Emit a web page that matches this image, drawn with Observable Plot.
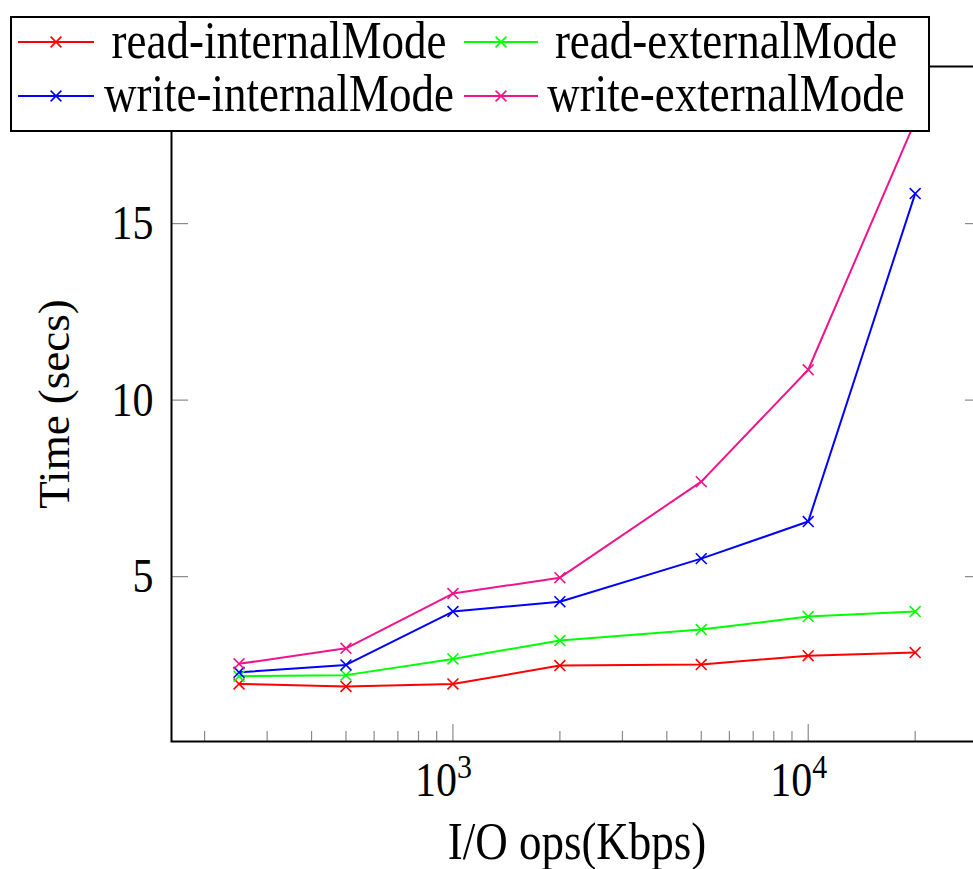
<!DOCTYPE html>
<html>
<head>
<meta charset="utf-8">
<script src="https://cdn.jsdelivr.net/npm/d3@7"></script>
<script src="https://cdn.jsdelivr.net/npm/@observablehq/plot@0.6"></script>
<style>
html, body { margin: 0; padding: 0; overflow: hidden; background: #fff; }
#wrap { position: relative; width: 973px; height: 869px; overflow: hidden; }
#wrap > svg { position: absolute; left: 0; top: 0; max-width: none !important; height: auto; }
#legend { position: absolute; left: 0; top: 0; pointer-events: none; }
</style>
</head>
<body>
<div id="wrap"></div>
<script>
// ---- data ----
const xValues = [250, 500, 1000, 2000, 5000, 10000, 20000];
const readInternal  = [1.96, 1.89, 1.96, 2.48, 2.51, 2.76, 2.85];
const readExternal  = [2.18, 2.21, 2.67, 3.19, 3.50, 3.87, 4.01];
const writeInternal = [2.29, 2.50, 4.01, 4.29, 5.51, 6.56, 15.85];
const writeExternal = [2.53, 2.97, 4.52, 4.97, 7.69, 10.86, 17.90];
const seriesNames  = ["read-internalMode", "read-externalMode", "write-internalMode", "write-externalMode"];
const seriesColors = ["#ff0000", "#00ff00", "#0000ff", "#f0148c"];
const xMajorTicks = [1000, 10000];
const xMajorBase = "10";
const xMajorExp = ["3", "4"];
const xMinorTicks = [200, 300, 400, 500, 600, 700, 800, 900, 2000, 3000, 4000, 5000, 6000, 7000, 8000, 9000, 20000, 30000];
const yTicks = [5, 10, 15];
const xLabel = "I/O ops(Kbps)";
const yLabel = "Time (secs)";

const seriesValues = [readInternal, readExternal, writeInternal, writeExternal];
const table = seriesNames.flatMap((name, i) => xValues.map((x, j) => ({series: name, x, y: seriesValues[i][j]})));
const expTable = xMajorTicks.map((t, i) => ({t, e: xMajorExp[i]}));

const W = 990, H = 869, mL = 171, mR = 8, mT = 66, mB = 128;
const pw = W - mL - mR, ph = H - mT - mB;
const tickColor = "#8a8a8a";
const font = "'Liberation Serif', 'Times New Roman', serif";
const S = 1.15; // vertical stretch of the reference's glyphs

const chart = Plot.plot({
  width: W, height: H,
  marginLeft: mL, marginRight: mR, marginTop: mT, marginBottom: mB,
  x: {type: "log", domain: [161.4, 30940], axis: null},
  y: {domain: [0.33, 19.45], axis: null},
  color: {domain: seriesNames, range: seriesColors},
  style: {fontFamily: font, background: "white", overflow: "visible", maxWidth: "none"},
  marks: [
    // ticks (inward, pgfplots style)
    Plot.tickX(xMinorTicks, {x: d => d, insetTop: ph - 10, stroke: tickColor, strokeWidth: 1.2}),
    Plot.tickX(xMajorTicks, {x: d => d, insetTop: ph - 17, stroke: tickColor, strokeWidth: 1.2}),
    Plot.tickX(xMinorTicks, {x: d => d, insetBottom: ph - 10, stroke: tickColor, strokeWidth: 1.2}),
    Plot.tickX(xMajorTicks, {x: d => d, insetBottom: ph - 17, stroke: tickColor, strokeWidth: 1.2}),
    Plot.tickY(yTicks, {y: d => d, insetRight: pw - 17, stroke: tickColor, strokeWidth: 1.2}),
    Plot.tickY(yTicks, {y: d => d, insetLeft: pw - 17, stroke: tickColor, strokeWidth: 1.2}),
    // data
    Plot.line(table, {x: "x", y: "y", z: "series", stroke: "series", strokeWidth: 2}),
    Plot.dot(table, {x: "x", y: "y", stroke: "series", symbol: "times", r: 5, strokeWidth: 1.6}),
    Plot.frame({stroke: "black", strokeWidth: 2}),
    // tick labels
    Plot.text(yTicks, {y: d => d, frameAnchor: "left", text: d => String(d), textAnchor: "end", lineAnchor: "middle", dx: -18, fontSize: 42, fill: "black", ariaDescription: "vstretch"}),
    Plot.text(xMajorTicks, {x: d => d, frameAnchor: "bottom", text: () => xMajorBase, textAnchor: "middle", lineAnchor: "middle", dx: -17, dy: 39, fontSize: 42, fill: "black", ariaDescription: "vstretch"}),
    Plot.text(expTable, {x: "t", frameAnchor: "bottom", text: "e", textAnchor: "middle", lineAnchor: "middle", dx: 11.5, dy: 25, fontSize: 30, fill: "black", ariaDescription: "vstretch"}),
    // axis labels
    Plot.text([xLabel], {frameAnchor: "bottom", text: d => d, textAnchor: "middle", lineAnchor: "middle", dy: 101, fontSize: 45, fill: "black", ariaDescription: "vstretch"}),
    Plot.text([yLabel], {frameAnchor: "left", text: d => d, textAnchor: "middle", lineAnchor: "middle", rotate: -90, dx: -117, fontSize: 45, fill: "black"})
  ]
});
chart.style.maxWidth = "none";
chart.style.width = W + "px";
chart.style.height = H + "px";
document.getElementById("wrap").appendChild(chart);

// stretch horizontal texts vertically, like the reference's glyphs
d3.select(chart).selectAll('g[aria-description="vstretch"] text').each(function() {
  const t = this.getAttribute("transform") || "";
  this.setAttribute("transform", `${t} scale(1,${S})`);
});

// ---- legend (overlay box, as in the reference) ----
const lg = d3.select("#wrap").append("svg").attr("id", "legend").attr("width", 973).attr("height", 140);
lg.append("rect").attr("x", 11).attr("y", 17).attr("width", 918).attr("height", 114)
  .attr("fill", "white").attr("stroke", "black").attr("stroke-width", 2);
const cols = [{x1: 18, x2: 94, m: 56, tx: 279}, {x1: 464, x2: 538, m: 501, tx: 726}];
const rows = [{y: 42, base: 58}, {y: 96, base: 111}];
seriesNames.forEach((name, i) => {
  const c = cols[i % 2], r = rows[Math.floor(i / 2)];
  const g = lg.append("g");
  g.append("line").attr("x1", c.x1).attr("x2", c.x2).attr("y1", r.y).attr("y2", r.y)
    .attr("stroke", seriesColors[i]).attr("stroke-width", 2);
  g.append("path").attr("transform", `translate(${c.m},${r.y})`)
    .attr("d", d3.symbol(d3.symbolTimes, 5 * 5 * Math.PI)())
    .attr("fill", "none").attr("stroke", seriesColors[i]).attr("stroke-width", 1.6);
  g.append("text").attr("transform", `translate(${c.tx},${r.base}) scale(1,${S})`).attr("text-anchor", "middle")
    .attr("font-family", font).attr("font-size", 45).attr("fill", "black").text(name);
});
</script>
</body>
</html>
